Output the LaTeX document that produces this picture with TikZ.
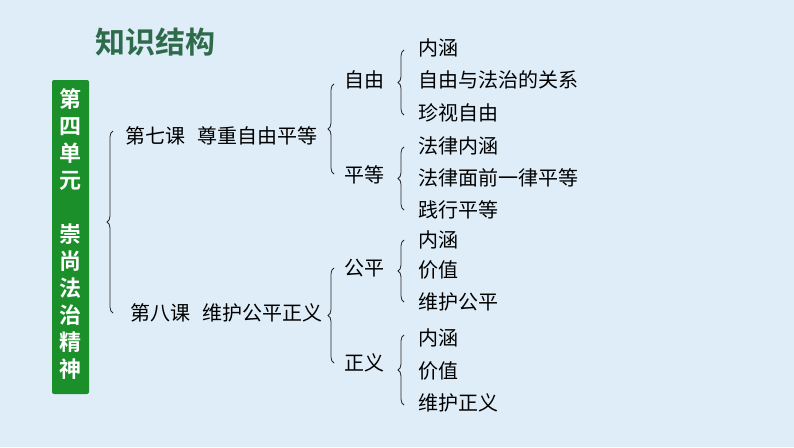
\documentclass[tikz,border=0pt]{standalone}
\usepackage{fontspec}
\newfontfamily\cjk{Noto Sans CJK SC}
\newfontfamily\cjkb{Noto Sans CJK SC Bold}
\usetikzlibrary{decorations.pathreplacing}
\definecolor{bg}{HTML}{DEEDF8}
\definecolor{gbox}{HTML}{1A8F2A}
\definecolor{ttl}{HTML}{2E6B4A}
\tikzset{x=1pt,y=-1pt,
 txt/.style={anchor=west,inner sep=0pt,font=\cjk\fontsize{20}{20}\selectfont,text=black},
 br/.style={decorate,decoration={brace,amplitude=6pt},draw=black!85,line width=0.8pt}}
\begin{document}
\begin{tikzpicture}
\fill[bg] (0,0) rectangle (794,447);
\useasboundingbox (0,0) rectangle (794,447);
\node[anchor=west,inner sep=0pt,text=ttl,font=\cjkb\fontsize{30}{30}\selectfont] (title) at (95,42) {知识结构};
\node[fill=gbox,rounded corners=2pt,minimum width=37pt,minimum height=314pt,inner sep=0pt] (unit) at (70.5,237) {};
\node[text=white,font=\cjkb\fontsize{22}{27}\selectfont,align=center,inner sep=0pt] (ut) at (70.5,234) {第\\四\\单\\元\\\\崇\\尚\\法\\治\\精\\神};
\node[txt] (l7) at (125,136) {第七课\hspace{0.6em}尊重自由平等};
\node[txt] (l8) at (130,313) {第八课\hspace{0.6em}维护公平正义};
\node[txt] (zy) at (344,80) {自由};
\node[txt] (pd) at (344,175) {平等};
\node[txt] (gp) at (344,268) {公平};
\node[txt] (zyi) at (344,363) {正义};
\foreach \n/\y/\t in {a/48/内涵,b/80/自由与法治的关系,c/113/珍视自由,d/146/法律内涵,e/178/法律面前一律平等,f/210/践行平等,g/240/内涵,h/270/价值,i/302/维护公平,j/338/内涵,k/371/价值,m/403/维护正义}
  \node[txt] (\n) at (418,\y) {\t};
\coordinate (b1t) at (113,131); \coordinate (b1b) at (113,313);
\draw[br] (b1b) -- (b1t);
\draw[br] (334,174) -- (334,84);
\draw[br] (334,363) -- (334,268);
\draw[br] (404,115) -- (404,50);
\draw[br] (404,210) -- (404,147);
\draw[br] (404,302) -- (404,240);
\draw[br] (404,405) -- (404,335);
\end{tikzpicture}
\end{document}
